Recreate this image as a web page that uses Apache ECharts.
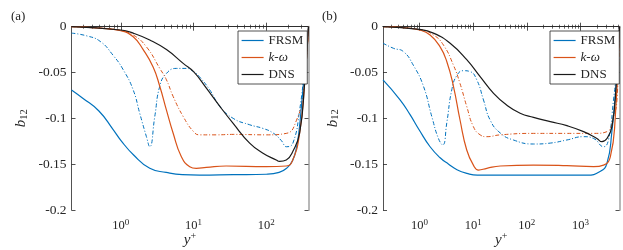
<!DOCTYPE html>
<html>
<head>
<meta charset="utf-8">
<script src="https://cdn.jsdelivr.net/npm/echarts@6/dist/echarts.min.js"></script>
<style>html,body{margin:0;padding:0;background:#fff;}#c{width:623px;height:250px;}</style>
</head>
<body>
<div id="c"></div>
<script>
// ---------- data (y+, b12) ----------
const aFrsmSolid = [[0.21,-0.069],[0.3,-0.078],[0.5,-0.092],[0.78,-0.112],[1,-0.124],[1.5,-0.140],[2.5,-0.1545],[4.2,-0.159],[7,-0.1615],[12,-0.162],[35,-0.1615],[100,-0.161],[150,-0.159],[190,-0.1545],[230,-0.146],[261,-0.131],[285,-0.11],[306,-0.084],[330,-0.055],[351,-0.029],[380,0]];
const aFrsmDash = [[0.21,-0.007],[0.34,-0.010],[0.52,-0.016],[0.78,-0.031],[1.08,-0.047],[1.48,-0.069],[1.82,-0.0945],[2.25,-0.12],[2.5,-0.131],[2.93,-0.098],[3.43,-0.065],[4.24,-0.051],[5.8,-0.0455],[8,-0.0455],[10,-0.049],[12,-0.0545],[16.7,-0.069],[23,-0.087],[35,-0.100],[59,-0.107],[90,-0.111],[124,-0.116],[160,-0.124],[190,-0.131],[232,-0.127],[287,-0.091],[336,-0.044],[380,0]];
const aKwSolid = [[0.21,0],[0.5,-0.0015],[1,-0.0044],[1.48,-0.011],[2.03,-0.025],[2.78,-0.044],[3.43,-0.065],[4.24,-0.091],[5.23,-0.116],[6.8,-0.142],[8.85,-0.1527],[10.9,-0.1545],[15,-0.1535],[28,-0.152],[100,-0.1527],[188,-0.152],[232,-0.145],[287,-0.116],[336,-0.062],[380,0]];
const aKwDash = [[0.21,0],[0.5,-0.0015],[1,-0.004],[1.48,-0.009],[2.25,-0.022],[3.43,-0.0455],[4.24,-0.058],[5.23,-0.076],[7.2,-0.098],[10,-0.1145],[12.1,-0.118],[20.6,-0.118],[35,-0.1175],[100,-0.118],[188,-0.1164],[260,-0.102],[319,-0.073],[380,0]];
const aDns = [[0.21,0],[1,-0.0036],[1.48,-0.007],[2.5,-0.0145],[4.24,-0.025],[7.2,-0.040],[10,-0.049],[15,-0.067],[23,-0.087],[35,-0.1055],[59,-0.127],[90,-0.138],[137,-0.1455],[152,-0.147],[188,-0.1455],[232,-0.136],[287,-0.116],[336,-0.062],[380,0]];

const bFrsmSolid = [[0.21,-0.058],[0.44,-0.080],[0.67,-0.096],[1,-0.113],[1.58,-0.131],[2.43,-0.143],[3.5,-0.150],[5,-0.156],[7.6,-0.160],[12,-0.162],[133,-0.162],[1300,-0.162],[2300,-0.158],[3100,-0.149],[3800,-0.116],[4600,-0.062],[5300,0]];
const bFrsmDash = [[0.21,-0.018],[0.33,-0.0236],[0.5,-0.027],[0.77,-0.042],[1.19,-0.065],[1.7,-0.098],[2.26,-0.122],[2.72,-0.129],[3.23,-0.105],[4,-0.069],[5,-0.053],[6.6,-0.048],[8.8,-0.049],[11.7,-0.058],[15.6,-0.080],[20.7,-0.1018],[32,-0.116],[56,-0.1236],[133,-0.128],[272,-0.127],[556,-0.1236],[1137,-0.12],[1750,-0.122],[2680,-0.131],[3300,-0.1236],[4100,-0.08],[4750,-0.0436],[5300,0]];
const bKwSolid = [[0.21,0],[0.5,-0.001],[1,-0.0036],[1.58,-0.009],[2.43,-0.022],[3.23,-0.038],[4.3,-0.065],[5.7,-0.1018],[7.6,-0.1345],[10.1,-0.151],[12.6,-0.1564],[18,-0.1545],[32,-0.152],[133,-0.151],[556,-0.1516],[1750,-0.1527],[2680,-0.151],[3575,-0.142],[4430,-0.098],[5300,0]];
const bKwDash = [[0.21,0],[1,-0.003],[1.82,-0.009],[2.8,-0.02],[4.3,-0.042],[5.7,-0.062],[7.6,-0.087],[10.1,-0.109],[13.5,-0.118],[18,-0.12],[32,-0.118],[133,-0.1164],[556,-0.1164],[1750,-0.1164],[3090,-0.1145],[4120,-0.098],[4750,-0.08],[5300,0]];
const bDns = [[0.21,0],[1,-0.003],[1.82,-0.007],[3.73,-0.018],[7.6,-0.036],[13.5,-0.0545],[24,-0.0727],[42,-0.0855],[75,-0.0945],[133,-0.099],[272,-0.1036],[556,-0.108],[1137,-0.1145],[2010,-0.122],[2500,-0.1255],[3090,-0.122],[3835,-0.109],[4620,-0.062],[5300,0]];

// ---------- ticks ----------
const xMajorA = [1, 10, 100];
const xMinorA = [0.3,0.4,0.5,0.6,0.7,0.8,0.9,2,3,4,5,6,7,8,9,20,30,40,50,60,70,80,90,200,300];
const xMajorB = [1, 10, 100, 1000];
const xMinorB = [0.3,0.4,0.5,0.6,0.7,0.8,0.9,2,3,4,5,6,7,8,9,20,30,40,50,60,70,80,90,200,300,400,500,600,700,800,900,2000,3000,4000,5000];
const xRangeA = [0.21, 380];
const xRangeB = [0.21, 5300];
const yRange = [-0.2, 0];
const yStep = 0.05;
const panelLabels = ['(a)', '(b)'];
const legendNames = ['FRSM', 'k-ω', 'DNS'];

const BLUE = '#0072BD', ORANGE = '#D95319', BLACK = '#1a1a1a', AX = '#262626';
const FONT = '"Liberation Serif", "DejaVu Serif", "Times New Roman", serif';
const DASHDOT = [4, 2, 1, 2];

const grids = [
  {left: 71.5, top: 26.7, width: 237, height: 183.3, containLabel: false, outerBoundsMode: 'none'},
  {left: 383, top: 26.7, width: 236.5, height: 183.3, containLabel: false, outerBoundsMode: 'none'}
];

function xAxes(gi, range, majors, minors) {
  const base = {type: 'log', gridIndex: gi, min: range[0], max: range[1], splitLine: {show: false}};
  const lbl = {
    customValues: majors, margin: 8, color: AX, fontFamily: FONT, fontSize: 12.5,
    formatter: v => '{b|10}{sup|' + Math.round(Math.log10(v)) + '}',
    rich: {b: {fontFamily: FONT, fontSize: 12.5, color: AX}, sup: {fontFamily: FONT, fontSize: 9, color: AX, verticalAlign: 'top', padding: [0,0,6,0]}}
  };
  return [
    Object.assign({}, base, {position: 'bottom', axisLine: {lineStyle: {color: AX, width: 0.8}},
      axisTick: {inside: true, length: 4, customValues: majors, lineStyle: {color: AX, width: 0.8}}, axisLabel: lbl,
      name: '{i|y}{s|+}', nameLocation: 'middle', nameGap: 21, nameMoveOverlap: false,
      nameTextStyle: {rich: {i: {fontFamily: FONT, fontStyle: 'italic', fontSize: 15, color: AX}, s: {fontFamily: FONT, fontSize: 10, color: AX, verticalAlign: 'top', padding: [0,0,8,0]}}}}),
    Object.assign({}, base, {position: 'bottom', axisLine: {show: false},
      axisTick: {inside: true, length: 2, customValues: minors, lineStyle: {color: AX, width: 0.7}}, axisLabel: {show: false}}),
    Object.assign({}, base, {position: 'top', axisLine: {lineStyle: {color: AX, width: 0.8}},
      axisTick: {inside: true, length: 4, customValues: majors, lineStyle: {color: AX, width: 0.8}}, axisLabel: {show: false}}),
    Object.assign({}, base, {position: 'top', axisLine: {show: false},
      axisTick: {inside: true, length: 2, customValues: minors, lineStyle: {color: AX, width: 0.7}}, axisLabel: {show: false}})
  ];
}
function yAxes(gi) {
  const base = {type: 'value', gridIndex: gi, min: yRange[0], max: yRange[1], interval: yStep, splitLine: {show: false}};
  return [
    Object.assign({}, base, {position: 'left', axisLine: {show: true, lineStyle: {color: AX, width: 0.8}},
      axisTick: {show: true, inside: true, length: 4, lineStyle: {color: AX, width: 0.8}},
      axisLabel: {margin: 5, color: AX, fontFamily: FONT, fontSize: 13.5},
      name: '{i|b}{s|12}', nameLocation: 'middle', nameRotate: 90, nameGap: 42,
      nameTextStyle: {rich: {i: {fontFamily: FONT, fontStyle: 'italic', fontSize: 15, color: AX}, s: {fontFamily: FONT, fontSize: 10.5, color: AX, verticalAlign: 'bottom', padding: [5,0,0,0]}}}}),
    Object.assign({}, base, {position: 'right', axisLine: {show: true, lineStyle: {color: '#b8b8b8', width: 2}},
      axisTick: {show: true, inside: true, length: 4, lineStyle: {color: AX, width: 0.8}}, axisLabel: {show: false}})
  ];
}

function mkSeries(name, data, color, dashed, xi, yi) {
  return {type: 'line', name: name, data: data, xAxisIndex: xi, yAxisIndex: yi,
    symbol: 'none', smooth: 0.5, animation: false,
    lineStyle: {color: color, width: dashed ? 1 : 1.2, type: dashed ? DASHDOT : 'solid'},
    itemStyle: {color: color}, z: dashed ? 2 : 3};
}

const series = [
  mkSeries('FRSM dash', aFrsmDash, BLUE, true, 0, 0),
  mkSeries('k-ω dash', aKwDash, ORANGE, true, 0, 0),
  mkSeries('FRSM', aFrsmSolid, BLUE, false, 0, 0),
  mkSeries('k-ω', aKwSolid, ORANGE, false, 0, 0),
  mkSeries('DNS', aDns, BLACK, false, 0, 0),
  mkSeries('FRSM dash', bFrsmDash, BLUE, true, 4, 2),
  mkSeries('k-ω dash', bKwDash, ORANGE, true, 4, 2),
  mkSeries('FRSM', bFrsmSolid, BLUE, false, 4, 2),
  mkSeries('k-ω', bKwSolid, ORANGE, false, 4, 2),
  mkSeries('DNS', bDns, BLACK, false, 4, 2)
];

function mkLegend(left) {
  return {data: legendNames, orient: 'vertical', left: left, top: 31, align: 'left',
    backgroundColor: '#fff', borderColor: AX, borderWidth: 0.8, borderRadius: 0,
    padding: [3, 4, 3, 3], itemGap: 4, itemWidth: 22, itemHeight: 12, selectedMode: false,
    itemStyle: {opacity: 0},
    lineStyle: {width: 1.2},
    textStyle: {fontFamily: FONT, fontSize: 13, color: AX, lineHeight: 12,
      rich: {i: {fontFamily: FONT, fontStyle: 'italic', fontSize: 13, color: AX}}},
    formatter: n => n === 'k-ω' ? '{i|k}-{i|ω}' : n};
}

const chart = echarts.init(document.getElementById('c'), null, {renderer: 'canvas'});
chart.setOption({
  animation: false,
  backgroundColor: '#fff',
  textStyle: {fontFamily: FONT},
  title: [
    {text: panelLabels[0], left: 6, top: 5, textStyle: {fontFamily: FONT, fontWeight: 'normal', fontSize: 13, color: AX}},
    {text: panelLabels[1], left: 317, top: 5, textStyle: {fontFamily: FONT, fontWeight: 'normal', fontSize: 13, color: AX}}
  ],
  grid: grids,
  xAxis: xAxes(0, xRangeA, xMajorA, xMinorA).concat(xAxes(1, xRangeB, xMajorB, xMinorB)),
  yAxis: yAxes(0).concat(yAxes(1)),
  legend: [mkLegend(238), mkLegend(550)],
  series: series
});
</script>
</body>
</html>
